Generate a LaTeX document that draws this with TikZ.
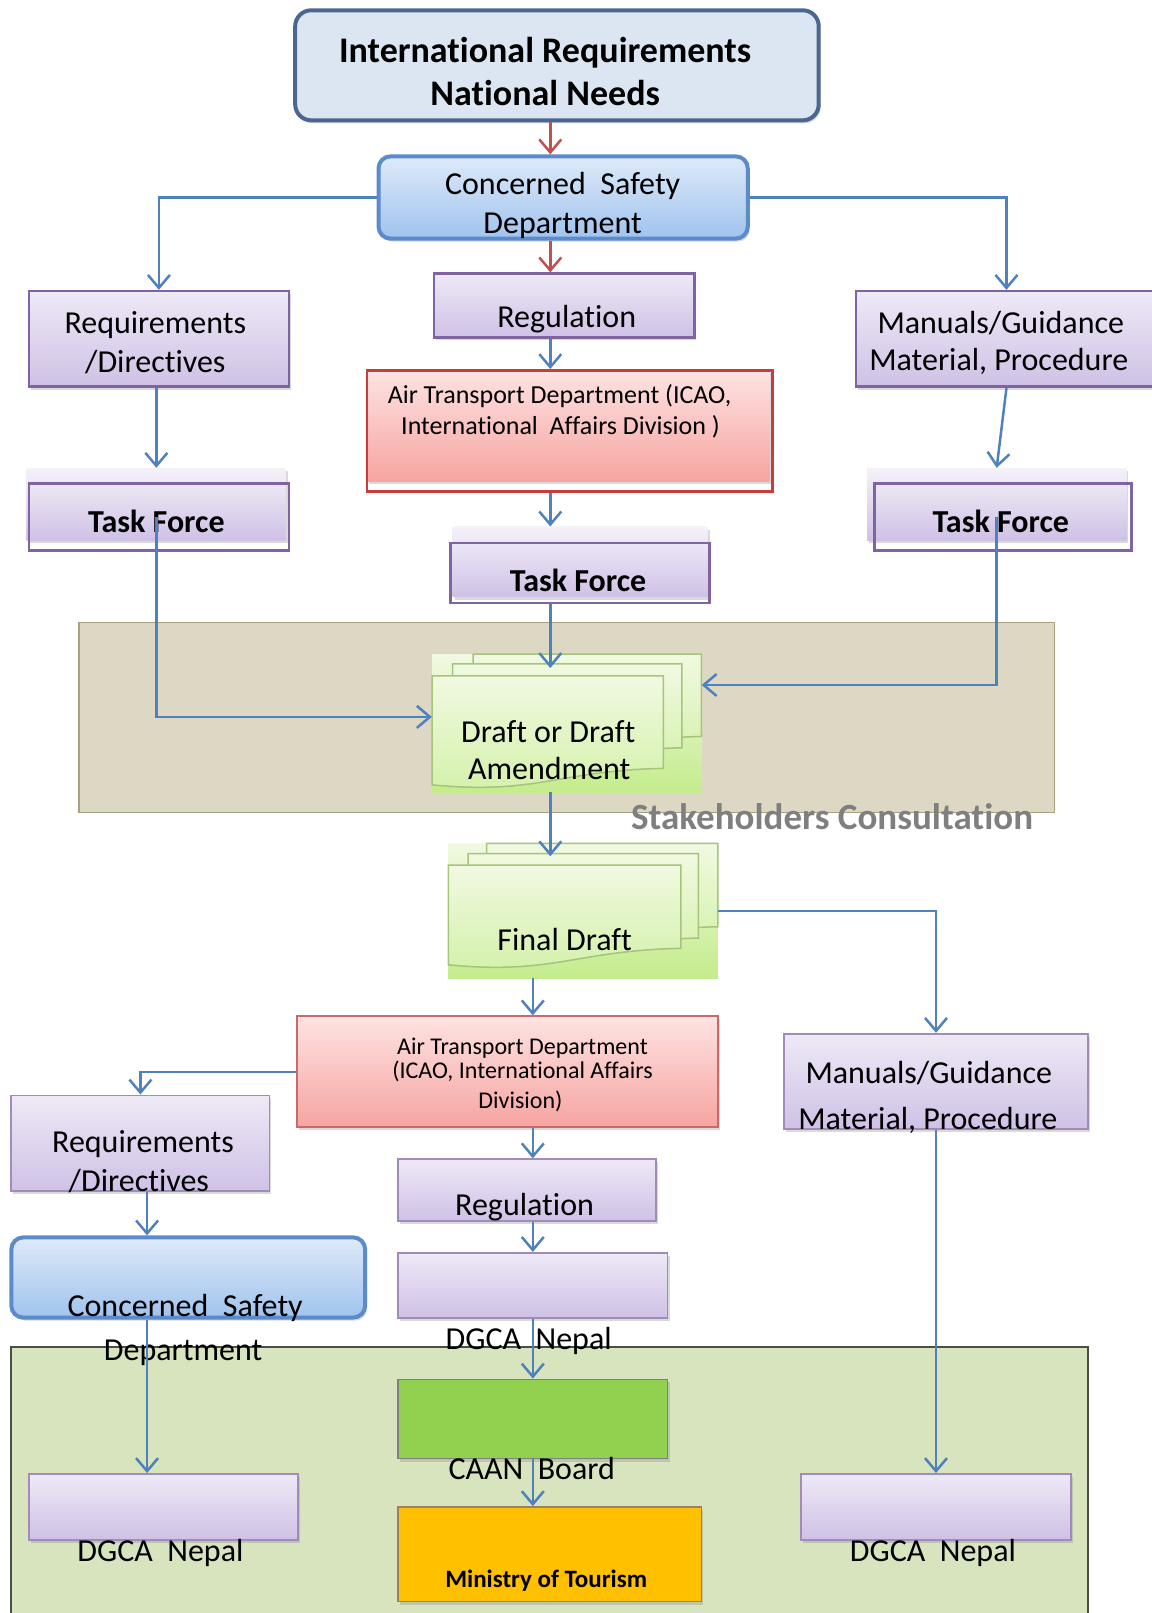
\documentclass[tikz,border=0pt]{standalone}
\usepackage{fontspec}
\setmainfont{Carlito}[Ligatures={NoCommon,NoContextual}]
\usetikzlibrary{arrows.meta,shadows}

\definecolor{arrblue}{HTML}{4F81BD}
\definecolor{arrred}{HTML}{C0504D}
\definecolor{lavtop}{HTML}{EEE9F6}
\definecolor{lavbot}{HTML}{CFC1E6}
\definecolor{lavline}{HTML}{8064A2}
\definecolor{pinktop}{HTML}{FDE3E2}
\definecolor{pinkbot}{HTML}{F6A4A1}
\definecolor{redline}{HTML}{C83C3C}
\definecolor{bluetop}{HTML}{DEEAF9}
\definecolor{bluebot}{HTML}{A0C3EE}
\definecolor{blueline}{HTML}{5B8BCB}
\definecolor{slatefill}{HTML}{DCE6F2}
\definecolor{slateline}{HTML}{4B6790}
\definecolor{tanfill}{HTML}{DDD8C3}
\definecolor{tanline}{HTML}{A8A17F}
\definecolor{lowfill}{HTML}{D8E4BD}
\definecolor{gtop}{HTML}{F1F9E1}
\definecolor{gbot}{HTML}{C4EC8C}
\definecolor{gline}{HTML}{A6C47C}
\definecolor{caangreen}{HTML}{92D050}
\definecolor{motorange}{HTML}{FFC000}
\definecolor{stakegray}{HTML}{7F7F7F}

% one sheet of a document stack, wavy bottom edge
\newcommand\docsheet[4]{%
  \filldraw[sheet] (#1,#2) -- (#3,#2) -- (#3,#4)
    .. controls ({#3-0.45*(#3-#1)},{#4+2}) and ({#1+0.45*(#3-#1)},{#4+26}) .. (#1,{#4+16}) -- cycle;}

\tikzset{
  wh/.style 2 args={minimum width=#1*1.0286pt, minimum height=#2*1.0286pt},
  flowbox/.style={rectangle, inner sep=0pt,
    drop shadow={shadow xshift=2pt, shadow yshift=-3pt, opacity=.3}},
  topbox/.style={flowbox, rounded corners=16pt, line width=4pt, draw=slateline, fill=slatefill},
  csdbox/.style={flowbox, rounded corners=12pt, line width=4pt, draw=blueline,
    top color=bluetop, bottom color=bluebot},
  lavbox/.style={flowbox, line width=2.5pt, draw=lavline, top color=lavtop, bottom color=lavbot},
  lavboxb/.style={flowbox, line width=1.8pt, draw=lavline!75, top color=lavtop, bottom color=lavbot},
  tffill/.style={flowbox, top color=lavtop!60, bottom color=lavbot},
  tfbox/.style={rectangle, inner sep=0pt, line width=2.5pt, draw=lavline},
  pinkfill/.style={flowbox, top color=pinktop, bottom color=pinkbot},
  atdbox/.style={rectangle, inner sep=0pt, line width=2.5pt, draw=redline},
  pinkbox/.style={flowbox, line width=1.8pt, draw=arrred!85, top color=pinktop, bottom color=pinkbot},
  stackbg/.style={rectangle, inner sep=0pt, top color=gtop, bottom color=gbot},
  sheet/.style={draw=gline, line width=1.5pt, top color=gtop, bottom color=gbot!75},
  caanbox/.style={flowbox, line width=1.5pt, draw=gray, fill=caangreen},
  motbox/.style={flowbox, line width=1.5pt, draw=brown!45!gray, fill=motorange},
  txt/.style={anchor=base, inner sep=0pt, font=\fontsize{32}{38}\selectfont},
  bigtxt/.style={txt, font=\fontsize{36}{42}\selectfont\bfseries},
  tftxt/.style={txt, font=\fontsize{32}{38}\selectfont\bfseries},
  atdtxt/.style={txt, font=\fontsize{26}{30}\selectfont},
  atdtxtb/.style={txt, font=\fontsize{24}{28}\selectfont},
  staketxt/.style={txt, text=stakegray, font=\fontsize{37}{43}\selectfont\bfseries},
  mottxt/.style={txt, font=\fontsize{25}{30}\selectfont\bfseries},
  arr/.style={->, draw=arrblue, line width=2.5pt},
  redarr/.style={->, draw=arrred, line width=2.5pt},
}

\begin{document}
\begin{tikzpicture}[x=1.0286pt, y=-1.0286pt,
  >={Straight Barb[length=13pt,width=22pt]}]
  \useasboundingbox (0,0) rectangle (1120,1568.2);

  % background panels
  \draw[fill=tanfill, draw=tanline, line width=1.5pt] (77,605) rectangle (1025,790);
  \draw[fill=lowfill, draw=gray!60!black, line width=2pt] (11,1310) rectangle (1058,1600);
  \node[staketxt] (stake) at (809,806) {Stakeholders Consultation};

  % upper half
  \node[topbox, wh={509}{107}] (needs) at (541.5,63.5) {};
  \node[bigtxt] (needsA) at (530,61) {International Requirements};
  \node[bigtxt] (needsB) at (530,103) {National Needs};

  \node[csdbox, wh={359}{80}] (csd) at (547.5,192) {};
  \node[txt] (csdA) at (547,189) {Concerned\ \ Safety};
  \node[txt] (csdB) at (547,227) {Department};

  \node[lavbox, wh={253}{62}] (reg) at (548.5,297) {};
  \node[txt] (regA) at (551,318) {Regulation};

  \node[pinkfill, wh={391}{108}] (atdf) at (552.5,414) {};
  \node[atdbox, wh={394}{118}] (atd) at (554,419) {};
  \node[atdtxt] (atdA) at (544,392) {Air Transport Department (ICAO,};
  \node[atdtxt] (atdB) at (545,422) {International\ \ Affairs Division )};

  \node[tffill, wh={248}{68}] (tfmf) at (564,546) {};
  \node[tfbox, wh={252}{58}] (tfm) at (564,557) {};
  \node[tftxt] (tfmA) at (562,575) {Task Force};

  \node[lavbox, wh={253}{93}] (req) at (154.5,329.5) {};
  \node[txt] (reqA) at (151,324) {Requirements};
  \node[txt] (reqB) at (151,362) {/Directives};

  \node[tffill, wh={252}{70}] (tflf) at (152,490) {};
  \node[tfbox, wh={253}{65}] (tfl) at (154.5,502.5) {};
  \node[tftxt] (tflA) at (152,518) {Task Force};

  \node[lavbox, wh={293}{93}] (man) at (978.5,329.5) {};
  \node[txt] (manA) at (973,324) {Manuals/Guidance};
  \node[txt] (manB) at (971,360) {Material, Procedure};

  \node[tffill, wh={252}{70}] (tfrf) at (969,490) {};
  \node[tfbox, wh={250}{65}] (tfr) at (975,502.5) {};
  \node[tftxt] (tfrA) at (973,518) {Task Force};

  % document stacks
  \node[stackbg, wh={262}{134}] (draft) at (551,703) {};
  \docsheet{460}{636}{682}{716}
  \docsheet{440}{645.5}{663}{727}
  \docsheet{420}{657}{645}{747}
  \node[txt] (draftA) at (533,722) {Draft or Draft};
  \node[txt] (draftB) at (534,758) {Amendment};

  \node[stackbg, wh={262}{131}] (final) at (567,885.5) {};
  \docsheet{473}{820}{698}{901}
  \docsheet{455}{830}{679}{912}
  \docsheet{436}{841}{662}{922}
  \node[txt] (finalA) at (549,924) {Final Draft};

  % lower half
  \node[pinkbox, wh={409}{108}] (atd2) at (493.5,1042) {};
  \node[atdtxtb] (atd2A) at (508,1025) {Air Transport Department};
  \node[atdtxtb] (atd2B) at (508,1049) {(ICAO, International Affairs};
  \node[atdtxtb] (atd2C) at (506,1078) {Division)};

  \node[lavboxb, wh={251}{93}] (req2) at (136.5,1111.5) {};
  \node[txt] (req2A) at (139,1120) {Requirements};
  \node[txt] (req2B) at (135,1158) {/Directives};

  \node[csdbox, wh={344}{78}] (csd2) at (183,1242) {};
  \node[txt] (csd2A) at (180,1280) {Concerned\ \ Safety};
  \node[txt] (csd2B) at (178,1323) {Department};

  \node[lavboxb, wh={295}{93}] (man2) at (910,1051.5) {};
  \node[txt] (man2A) at (903,1053) {Manuals/Guidance};
  \node[txt] (man2B) at (902,1098) {Material, Procedure};

  \node[lavboxb, wh={251}{60}] (reg2) at (512.5,1157) {};
  \node[txt] (reg2A) at (510,1182) {Regulation};

  \node[lavboxb, wh={262}{63}] (dgcm) at (518,1249.5) {};
  \node[txt] (dgcmA) at (514,1312) {DGCA\ \ Nepal};

  \node[caanbox, wh={262}{77}] (caan) at (518,1379.5) {};
  \node[txt] (caanA) at (517,1438) {CAAN\ \ Board};

  \node[motbox, wh={295}{92}] (mot) at (534.5,1511) {};
  \node[mottxt] (motA) at (531,1543) {Ministry of Tourism};

  \node[lavboxb, wh={262}{64}] (dgcl) at (159,1465) {};
  \node[txt] (dgclA) at (156,1518) {DGCA\ \ Nepal};

  \node[lavboxb, wh={262}{64}] (dgcr) at (910,1465) {};
  \node[txt] (dgcrA) at (907,1518) {DGCA\ \ Nepal};

  % connectors
  \coordinate (spine) at (535,0);
  \coordinate (spineb) at (518,0);
  \coordinate (lspine) at (143,0);

  \draw[redarr] (needs.south -| spine) -- (csd.north -| spine);
  \draw[redarr] (csd.south -| spine) -- (reg.north -| spine);
  \draw[arr] (reg.south -| spine) -- (atd.north -| spine);
  \draw[arr] (atd.south -| spine) -- (tfmf.north -| spine);
  \draw[arr] (csd.west) -| (req.north);
  \draw[arr] (csd.east) -| (man.north);
  \draw[arr] (req.south -| tflf) -- (tflf.north);
  \draw[arr] (man.south) -- (tfrf.north);
  \draw[arr] (tfl.center -| tflf) |- ([yshift=6.2pt]draft.west);
  \draw[arr] (tfr.center -| tfrf) |- ([yshift=38.1pt]draft.east);
  \draw[arr, shorten >=-14pt] (tfm.south -| spine) -- (draft.north -| spine);
  \draw[arr, shorten >=-13pt] (draft.south -| spine) -- (final.north -| spine);

  \draw[arr] (final.east) -| (man2.north);
  \draw[arr] (final.south -| spineb) -- (atd2.north -| spineb);
  \draw[arr] (atd2.west) -| (req2.north);
  \draw[arr] (req2.south -| lspine) -- (csd2.north -| lspine);
  \draw[arr] (csd2.south -| lspine) -- (dgcl.north -| lspine);
  \draw[arr] (atd2.south -| spineb) -- (reg2.north -| spineb);
  \draw[arr] (reg2.south -| spineb) -- (dgcm.north -| spineb);
  \draw[arr] (dgcm.south -| spineb) -- (caan.north -| spineb);
  \draw[arr] (caan.south -| spineb) -- (mot.north -| spineb);
  \draw[arr] (man2.south) -- (dgcr.north);
\end{tikzpicture}
\end{document}
